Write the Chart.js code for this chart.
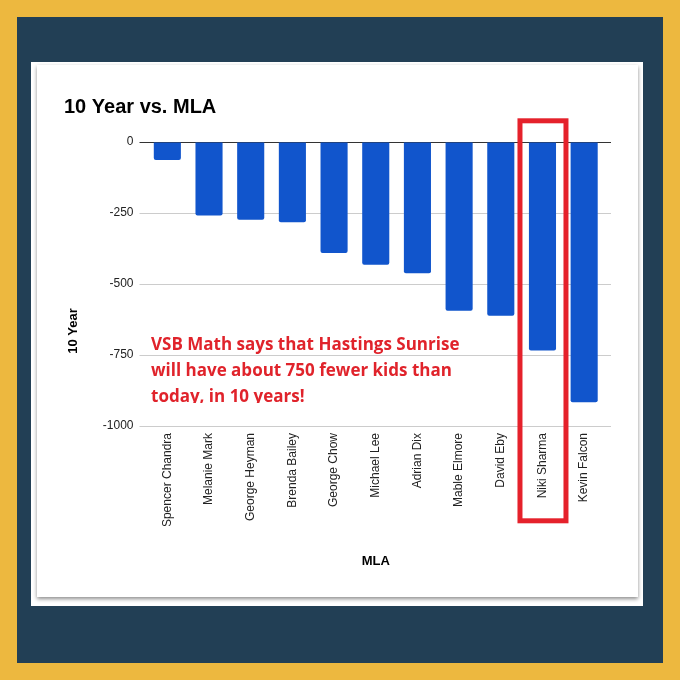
<!DOCTYPE html>
<html>
<head>
<meta charset="utf-8">
<script src="https://cdn.jsdelivr.net/npm/chart.js@4.4.1/dist/chart.umd.min.js"></script>
<style>
  html, body { margin: 0; padding: 0; }
  body { width: 680px; height: 680px; background: #edb83f; position: relative; overflow: hidden; }
  #frame { position: absolute; left: 17px; top: 17px; width: 646px; height: 646px; background: #223f55; }
  #panel { position: absolute; left: 31px; top: 62px; width: 612px; height: 544px; background: #fff; }
  #card { position: absolute; left: 37px; top: 65px; width: 601px; height: 532px; background: #fff;
          box-shadow: 0 2px 4px rgba(0,0,0,0.45); }
  #chart { position: absolute; left: 0; top: 0; }
  #note { position: absolute; left: 151px; top: 331px; height: 72px; overflow: hidden;
          font-family: "Open Sans", sans-serif; font-weight: bold; font-size: 17px; line-height: 26px;
          color: #e0232b; white-space: nowrap; z-index: 2; }
</style>
</head>
<body>
<div id="frame"></div>
<div id="panel"></div>
<div id="card"></div>
<canvas id="chart" width="680" height="680"></canvas>
<div id="note">VSB Math says that Hastings Sunrise<br>will have about 750 fewer kids than<br>today, in 10 years!</div>
<script>
// data
const mlas = ['Spencer Chandra', 'Melanie Mark', 'George Heyman', 'Brenda Bailey', 'George Chow',
              'Michael Lee', 'Adrian Dix', 'Mable Elmore', 'David Eby', 'Niki Sharma', 'Kevin Falcon'];
const tenYear = [-63, -259, -274, -283, -391, -432, -462, -594, -612, -734, -916];
const yTicks = [0, -250, -500, -750, -1000];
const highlighted = 'Niki Sharma';

const chartTitle = '10 Year vs. MLA';
const yTitle = '10 Year';
const xTitle = 'MLA';

// titles, grid extension and the red box around one MLA
const extras = {
    id: 'extras',
    afterDraw(chart) {
        const ctx = chart.ctx;
        const area = chart.chartArea;
        const x = chart.scales.x;
        const y = chart.scales.y;
        ctx.save();

        // grid lines run a bit past the right edge
        yTicks.forEach(v => {
            const py = Math.round(y.getPixelForValue(v)) + 0.5;
            ctx.strokeStyle = v === 0 ? '#333333' : '#cccccc';
            ctx.lineWidth = 1;
            ctx.beginPath();
            ctx.moveTo(area.right, py);
            ctx.lineTo(area.right + 6, py);
            ctx.stroke();
        });

        ctx.fillStyle = '#000';
        ctx.font = 'bold 20px "Liberation Sans", Arial, sans-serif';
        ctx.textAlign = 'left';
        ctx.textBaseline = 'alphabetic';
        ctx.fillText(chartTitle, 64, 113);

        ctx.font = 'bold 13px "Liberation Sans", Arial, sans-serif';
        ctx.textAlign = 'center';
        ctx.textBaseline = 'middle';
        ctx.fillText(xTitle, (area.left + area.right) / 2, 561);

        ctx.translate(73, 331);
        ctx.rotate(-Math.PI / 2);
        ctx.fillText(yTitle, 0, 0);
        ctx.setTransform(1, 0, 0, 1, 0, 0);

        const cx = x.getPixelForValue(mlas.indexOf(highlighted));
        ctx.strokeStyle = '#e5212b';
        ctx.lineWidth = 5;
        ctx.strokeRect(cx - 22.5, 120.8, 46, 400);
        ctx.restore();
    }
};

new Chart(document.getElementById('chart'), {
    type: 'bar',
    data: {
        labels: mlas,
        datasets: [{
            label: yTitle,
            data: tenYear,
            backgroundColor: '#1155cc',
            borderRadius: 2,
            borderSkipped: 'start',
            categoryPercentage: 1,
            barPercentage: 0.65
        }]
    },
    options: {
        responsive: false,
        animation: false,
        layout: { padding: { left: 0, top: 142, right: 75, bottom: 154 } },
        plugins: {
            legend: { display: false },
            tooltip: { enabled: false }
        },
        scales: {
            x: {
                grid: { display: false, drawTicks: false },
                border: { display: false },
                ticks: {
                    color: '#222',
                    font: { family: '"Liberation Sans", Arial, sans-serif', size: 12 },
                    minRotation: 90,
                    maxRotation: 90,
                    padding: 7,
                    autoSkip: false
                },
                afterFit(scale) { scale.height = 100; }
            },
            y: {
                min: -1000,
                max: 0,
                afterBuildTicks(scale) { scale.ticks = yTicks.map(v => ({ value: v })); },
                grid: {
                    color: ctx => ctx.tick && ctx.tick.value === 0 ? '#333333' : '#cccccc',
                    tickLength: 7
                },
                border: { display: false },
                ticks: {
                    color: '#222',
                    font: { family: '"Liberation Sans", Arial, sans-serif', size: 12 },
                    padding: 6,
                    callback: v => String(v)
                },
                afterFit(scale) { scale.width = 146.5; }
            }
        }
    },
    plugins: [extras]
});
</script>
</body>
</html>
